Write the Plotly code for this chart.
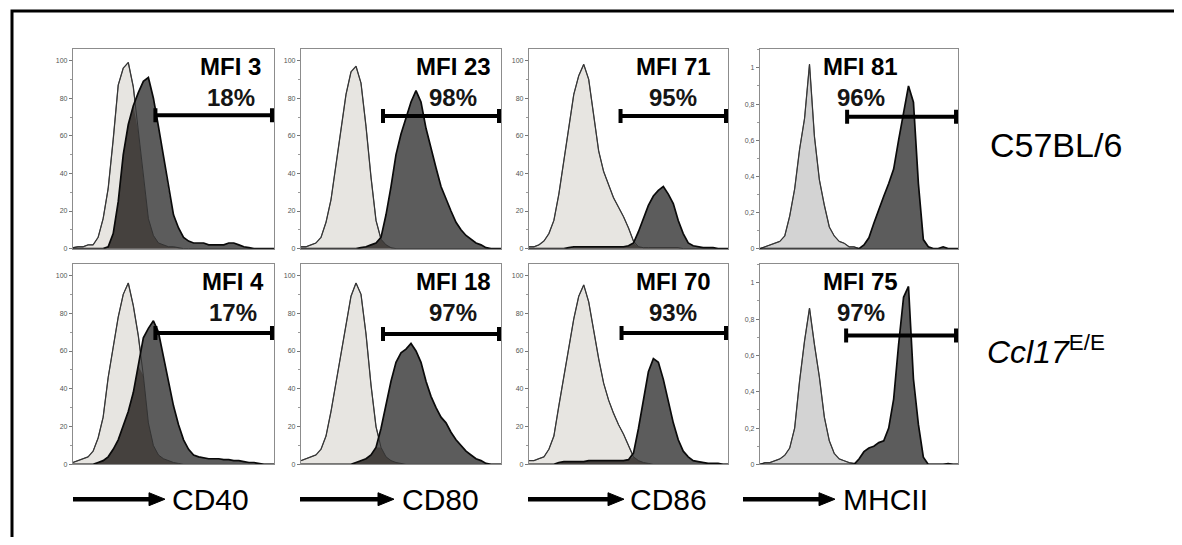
import numpy as np
import plotly.graph_objects as go

# the page body adds an 8 px margin; the figure is sized so that it fills the window exactly
OX, OY = 8, 8
W, H = 1182 - OX, 545 - 2 * OY

# ---------------- data ----------------
# common fluorescence grid (channel position inside a panel, 0..200)
X = [0, 5, 10, 15, 20, 25, 30, 35, 40, 45, 50, 55, 60, 65, 70, 75, 80, 85, 90, 95, 100,
     105, 110, 115, 120, 125, 130, 135, 140, 145, 150, 155, 160, 165, 170, 175, 180, 185, 190, 195, 200]

markers = ["CD40", "CD80", "CD86", "MHCII"]
strains = ["C57BL/6", "<i>Ccl17</i><sup>E/E</sup>"]

mfi_b6 = [3, 23, 71, 81]
pct_b6 = [18, 98, 95, 96]
mfi_ko = [4, 18, 70, 75]
pct_ko = [17, 97, 93, 97]

gate_start_b6 = [82, 82, 92, 88]
gate_start_ko = [82, 82, 93, 87]
gate_end = [198, 198, 198, 198]
gate_level_b6 = [71, 70.5, 70.5, 0.73]
gate_level_ko = [69.5, 69, 69.5, 0.71]

pct_tick_vals = [0, 20, 40, 60, 80, 100]
pct_tick_text = ["0", "20", "40", "60", "80", "100"]
frac_tick_vals = [0, 0.2, 0.4, 0.6, 0.8, 1]
frac_tick_text = ["0", "0,2", "0,4", "0,6", "0,8", "1"]

# C57BL/6 row: isotype (light) and stained (dark)
b6_cd40_iso = [0.5, 1, 1, 2, 2, 6, 16, 32, 58, 87, 96, 99, 86, 62, 38, 16, 7, 3, 2, 1, 1,
               0.5, 0, 0, 0, 0, 0, 0, 0, 0, 0, 0, 0, 0, 0, 0, 0, 0, 0, 0, 0]
b6_cd40_stain = [0, 0, 0, 0, 0, 0, 0, 1, 8, 25, 50, 66, 76, 83, 89, 91, 80, 65, 49, 32, 18,
                 11, 6, 4, 3, 3, 3, 2, 2, 2, 2, 3, 3, 2, 1, 0.5, 0, 0, 0, 0, 0]
b6_cd80_iso = [1, 1, 2, 3, 6, 14, 26, 45, 64, 82, 94, 97, 88, 65, 38, 15, 5, 2, 0.5, 0, 0,
               0, 0, 0, 0, 0, 0, 0, 0, 0, 0, 0, 0, 0, 0, 0, 0, 0, 0, 0, 0]
b6_cd80_stain = [0, 0, 0, 0, 0, 0, 0, 0, 0, 0, 0, 0, 0.5, 1, 2, 3, 6, 18, 33, 50, 61,
                 70, 78, 84, 78, 64, 53, 43, 33, 26, 20, 14, 10, 7, 5, 3, 2, 0.5, 0, 0, 0]
b6_cd86_iso = [1, 1, 2, 4, 8, 15, 29, 46, 64, 82, 92, 98, 90, 70, 52, 41, 34, 27, 22, 17, 11,
               4, 1, 0.5, 0.5, 0.5, 0.5, 0.5, 0.5, 0.5, 0.5, 0, 0, 0, 0, 0, 0, 0, 0, 0, 0]
b6_cd86_stain = [0, 0, 0, 0, 0, 0, 0, 0, 0.5, 1, 1, 1, 1, 1, 1, 1, 1, 1, 1, 1, 1.5,
                 3, 9, 16, 23, 28, 31, 33, 29, 24, 15, 8, 3, 1.5, 1, 0.5, 0.5, 0.5, 0, 0, 0]
b6_mhc_iso = [0, 0.01, 0.02, 0.03, 0.04, 0.07, 0.18, 0.33, 0.55, 0.72, 1.02, 0.62, 0.38, 0.24,
              0.12, 0.07, 0.04, 0.03, 0.01, 0.01, 0, 0, 0, 0, 0, 0, 0, 0, 0, 0, 0, 0, 0, 0,
              0, 0, 0, 0, 0, 0, 0]
b6_mhc_stain = [0, 0, 0, 0, 0, 0, 0, 0, 0, 0, 0, 0, 0, 0, 0, 0, 0, 0, 0, 0, 0,
                0.02, 0.06, 0.14, 0.22, 0.29, 0.36, 0.44, 0.6, 0.74, 0.9, 0.81, 0.36, 0.05,
                0.01, 0, 0, 0.01, 0, 0, 0]

# Ccl17 E/E row
ko_cd40_iso = [1, 2, 3, 4, 7, 14, 25, 46, 62, 78, 90, 96, 84, 68, 47, 22, 10, 5, 3, 2, 1,
               0.5, 0, 0, 0, 0, 0, 0, 0, 0, 0, 0, 0, 0, 0, 0, 0, 0, 0, 0, 0]
ko_cd40_stain = [0, 0, 0, 0, 0, 1, 2, 4, 8, 13, 20, 28, 38, 52, 67, 72, 76, 70, 57, 44, 31,
                 21, 13, 8, 5, 4, 3.5, 3, 3, 3, 2.5, 2.5, 2, 2, 1.5, 1, 1, 0.5, 0, 0, 0]
ko_cd80_iso = [2, 3, 4, 5, 8, 15, 28, 43, 58, 74, 89, 96, 90, 69, 42, 20, 9, 4, 2, 1, 0.5,
               0, 0, 0, 0, 0, 0, 0, 0, 0, 0, 0, 0, 0, 0, 0, 0, 0, 0, 0, 0]
ko_cd80_stain = [0, 0, 0, 0, 0, 0, 0, 0, 0, 0, 0, 1, 2, 3, 5, 9, 19, 32, 44, 54, 59,
                 61, 64, 60, 54, 44, 36, 30, 25, 22, 17, 13, 10, 7, 5, 3, 2, 0.5, 0, 0, 0]
ko_cd86_iso = [2, 2, 3, 4, 8, 15, 31, 47, 62, 77, 89, 95, 86, 70, 56, 43, 34, 27, 21, 16, 10,
               4, 2, 1, 0.5, 0, 0, 0, 0, 0, 0, 0, 0, 0, 0, 0, 0, 0, 0, 0, 0]
ko_cd86_stain = [0, 0, 0, 0, 0, 0, 1, 1.5, 1.5, 1.5, 1.5, 1.5, 2, 2, 2, 2, 2, 2, 2, 2, 2.5,
                 6, 19, 34, 49, 56, 54, 45, 33, 22, 13, 7, 4, 2, 1.5, 1, 0.5, 0.5, 0.5, 0, 0]
ko_mhc_iso = [0, 0.01, 0.01, 0.02, 0.03, 0.05, 0.09, 0.2, 0.46, 0.68, 0.86, 0.66, 0.48, 0.26,
              0.13, 0.06, 0.03, 0.02, 0.01, 0.005, 0, 0, 0, 0, 0, 0, 0, 0, 0, 0, 0, 0, 0, 0,
              0, 0, 0, 0, 0, 0, 0]
ko_mhc_stain = [0, 0, 0, 0, 0, 0, 0, 0, 0, 0, 0, 0, 0, 0, 0, 0, 0, 0, 0, 0, 0.03,
                0.07, 0.09, 0.1, 0.12, 0.13, 0.2, 0.36, 0.66, 0.92, 0.98, 0.47, 0.22, 0.04,
                0, 0, 0, 0, 0.005, 0, 0]

iso_rows = [[b6_cd40_iso, b6_cd80_iso, b6_cd86_iso, b6_mhc_iso],
            [ko_cd40_iso, ko_cd80_iso, ko_cd86_iso, ko_mhc_iso]]
stain_rows = [[b6_cd40_stain, b6_cd80_stain, b6_cd86_stain, b6_mhc_stain],
              [ko_cd40_stain, ko_cd80_stain, ko_cd86_stain, ko_mhc_stain]]
mfi_rows = [mfi_b6, mfi_ko]
pct_rows = [pct_b6, pct_ko]
gate_start_rows = [gate_start_b6, gate_start_ko]
gate_level_rows = [gate_level_b6, gate_level_ko]

# ---------------- layout geometry (pixels in the 1182x545 window) ----------------
col_px = [(73, 274), (301, 501), (529, 728), (760, 958)]
row_px = [(49, 250), (265, 467)]
text_xfrac = [[0.785, 0.76, 0.725, 0.51], [0.795, 0.76, 0.725, 0.51]]
FONT = "Arial, Liberation Sans, sans-serif"


def pxx(x):
    return (x - OX) / W


def pxy(y):
    return 1 - (y - OY) / H


fig = go.Figure()
layout = dict(width=W, height=H, margin=dict(l=0, r=0, t=0, b=0),
              paper_bgcolor="white", plot_bgcolor="white", showlegend=False,
              font=dict(family=FONT))
annotations = []
shapes = []

for r in range(2):
    for c in range(4):
        k = r * 4 + c + 1
        xa = "x" if k == 1 else f"x{k}"
        ya = "y" if k == 1 else f"y{k}"
        is_frac = markers[c] == "MHCII"
        iso = np.array(iso_rows[r][c], dtype=float)
        stain = np.array(stain_rows[r][c], dtype=float)
        overlap = np.minimum(iso, stain)
        light = "#d3d3d3" if is_frac else "#e7e5e1"

        fig.add_trace(go.Scatter(x=X, y=iso, mode="lines", fill="tozeroy",
                                 fillcolor=light, line=dict(color="#5a5a5a", width=1.3),
                                 xaxis=xa, yaxis=ya, hoverinfo="skip"))
        fig.add_trace(go.Scatter(x=X, y=stain, mode="none", fill="tozeroy",
                                 fillcolor="#5c5c5c", xaxis=xa, yaxis=ya, hoverinfo="skip"))
        fig.add_trace(go.Scatter(x=X, y=overlap, mode="none", fill="tozeroy",
                                 fillcolor="#45413e", xaxis=xa, yaxis=ya, hoverinfo="skip"))
        fig.add_trace(go.Scatter(x=X, y=iso, mode="lines",
                                 line=dict(color="#333333", width=1),
                                 xaxis=xa, yaxis=ya, hoverinfo="skip"))
        fig.add_trace(go.Scatter(x=X, y=stain, mode="lines",
                                 line=dict(color="#0a0a0a", width=1.7),
                                 xaxis=xa, yaxis=ya, hoverinfo="skip"))

        x0, x1 = col_px[c]
        y0, y1 = row_px[r]
        axis_line = dict(showline=True, mirror=True, linecolor="#8c8c8c", linewidth=1.2,
                         showgrid=False, zeroline=False)
        layout["xaxis" if k == 1 else f"xaxis{k}"] = dict(
            domain=[pxx(x0), pxx(x1)], range=[0, 200], anchor=ya,
            showticklabels=False, ticks="", **axis_line)
        if is_frac:
            yr, tv, tt, md = [0, 1.106], frac_tick_vals, frac_tick_text, 0.1
        else:
            yr, tv, tt, md = [0, 106.3], pct_tick_vals, pct_tick_text, 10
        layout["yaxis" if k == 1 else f"yaxis{k}"] = dict(
            domain=[pxy(y1), pxy(y0)], range=yr, anchor=xa,
            tickmode="array", tickvals=tv, ticktext=tt, ticks="outside", ticklen=3,
            tickwidth=1, tickcolor="#777", tickfont=dict(size=7, color="#555"),
            minor=dict(tickmode="linear", tick0=0, dtick=md, ticks="outside", ticklen=2,
                       tickcolor="#999"),
            **axis_line)

        # gate bar
        gl = gate_level_rows[r][c]
        gs = gate_start_rows[r][c]
        ge = gate_end[c]
        shapes.append(dict(type="line", xref=xa, yref=ya, x0=gs, x1=ge, y0=gl, y1=gl,
                           line=dict(color="black", width=4)))
        for gx in (gs, ge):
            shapes.append(dict(type="line", xref=xa, yref=ya, x0=gx, x1=gx,
                               ysizemode="pixel", yanchor=gl, y0=-7, y1=7,
                               line=dict(color="black", width=4)))

        # MFI / percentage text
        tx = text_xfrac[r][c]
        annotations.append(dict(xref=f"{xa} domain", yref=f"{ya} domain", x=tx, y=0.91,
                                text=f"<b>MFI {mfi_rows[r][c]}</b>", showarrow=False,
                                xanchor="center", yanchor="middle",
                                font=dict(size=24, color="black", family=FONT)))
        annotations.append(dict(xref=f"{xa} domain", yref=f"{ya} domain", x=tx, y=0.755,
                                text=f"<b>{pct_rows[r][c]}%</b>", showarrow=False,
                                xanchor="center", yanchor="middle",
                                font=dict(size=24, color="#151515", family=FONT)))

# row labels
annotations.append(dict(xref="paper", yref="paper", x=pxx(1056), y=pxy(146), text=strains[0],
                        showarrow=False, xanchor="center", yanchor="middle",
                        font=dict(size=34, color="black", family=FONT)))
annotations.append(dict(xref="paper", yref="paper", x=pxx(985), y=pxy(352), text=strains[1],
                        showarrow=False, xanchor="left", yanchor="middle",
                        font=dict(size=32, color="black", family=FONT)))

# axis arrows + marker names
arrow_x0 = [73, 300, 528, 743]
arrow_tip = [165, 394, 624, 835]
label_x = [170, 400, 628, 841]
ay = 502
for c in range(4):
    shapes.append(dict(type="line", xref="paper", yref="paper",
                       x0=pxx(arrow_x0[c]), x1=pxx(arrow_tip[c] - 12), y0=pxy(ay), y1=pxy(ay),
                       line=dict(color="black", width=4.5)))
    tip = arrow_tip[c]
    path = (f"M {pxx(tip - 16)} {pxy(ay - 6.5)} L {pxx(tip)} {pxy(ay)} "
            f"L {pxx(tip - 16)} {pxy(ay + 6.5)} Z")
    shapes.append(dict(type="path", xref="paper", yref="paper", path=path,
                       fillcolor="black", line=dict(color="black", width=1)))
    annotations.append(dict(xref="paper", yref="paper", x=pxx(label_x[c]), y=pxy(ay),
                            text=markers[c], showarrow=False, xanchor="left",
                            yanchor="middle", font=dict(size=30, color="black", family=FONT)))

# outer frame (its bottom edge lies below the visible window, as in the reference)
shapes.append(dict(type="rect", xref="paper", yref="paper", x0=pxx(12), x1=pxx(1178),
                   y0=-0.1, y1=pxy(11), line=dict(color="black", width=3),
                   fillcolor="rgba(0,0,0,0)"))

layout["annotations"] = annotations
layout["shapes"] = shapes
fig.update_layout(**layout)
fig.write_html("out.html")
